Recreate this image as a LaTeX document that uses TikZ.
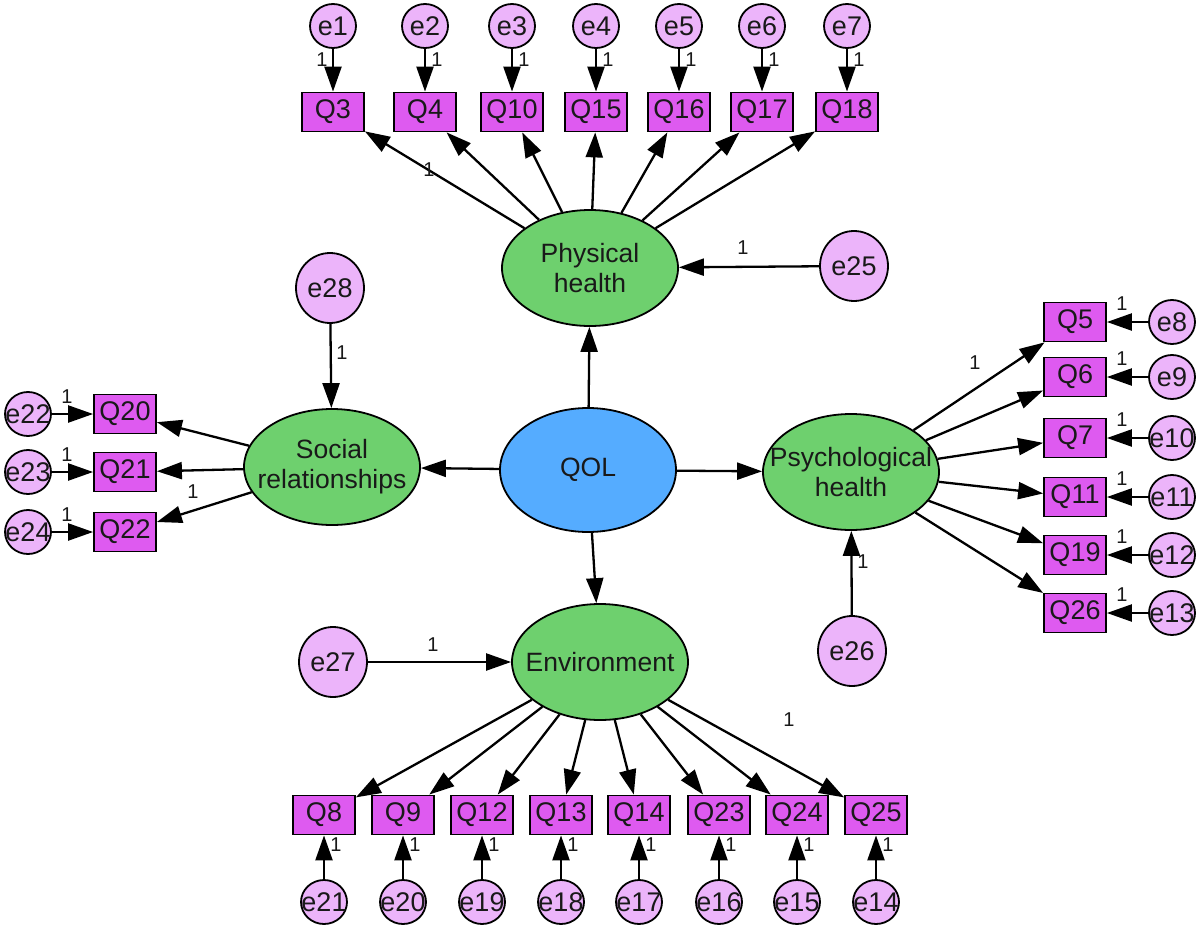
\documentclass[tikz,border=0pt]{standalone}
\usepackage{fontspec}
\setmainfont{Liberation Sans}
\usetikzlibrary{shapes.geometric,arrows.meta}
\definecolor{errc}{RGB}{236,180,250}
\definecolor{obsc}{RGB}{222,90,240}
\definecolor{latc}{RGB}{110,208,110}
\definecolor{qolc}{RGB}{85,172,255}
\definecolor{txt}{RGB}{25,25,25}
\newcommand{\zb}[1]{\makebox[0pt]{#1}}
\begin{document}
\begin{tikzpicture}[x=1pt,y=-1pt,
  err/.style={ellipse,draw,line width=1.8pt,fill=errc,inner sep=0pt,minimum width=46pt,minimum height=44pt,text=txt,font=\fontsize{27}{28}\selectfont},
  errbig/.style={err,minimum width=68pt,minimum height=70pt},
  obs/.style={rectangle,draw,line width=1.8pt,fill=obsc,inner sep=0pt,minimum width=62pt,minimum height=39pt,text=txt,font=\fontsize{27}{28}\selectfont},
  lat/.style={ellipse,draw,line width=1.8pt,fill=latc,inner sep=0pt,minimum width=176pt,minimum height=116pt,align=center,text=txt,font=\fontsize{26.5}{30}\selectfont},
  arr/.style={line width=2.3pt,-{Triangle[length=25pt,width=17pt]}},
  one/.style={font=\fontsize{20}{20}\selectfont,inner sep=0pt,text=txt}
]
\path[use as bounding box,fill=white] (0,0) rectangle (1200,929);

% latent variables
\node[lat] (PH) at (590,268) {\zb{Physical}\\\zb{health}};
\node[lat] (SR) at (332,467) {\zb{Social}\\\zb{relationships}};
\node[lat,fill=qolc,minimum height=124pt] (QOL) at (588,470) {\zb{QOL}};
\node[lat] (PS) at (851,472) {\zb{Psychological}\\\zb{health}};
\node[lat] (EN) at (600,662) {\zb{Environment}};

% disturbances
\node[errbig] (e25) at (854,266) {\zb{e25}};
\node[errbig] (e28) at (330,288) {\zb{e28}};
\node[errbig] (e27) at (333,662) {\zb{e27}};
\node[errbig] (e26) at (852,651) {\zb{e26}};

% structural paths
\draw[arr] (QOL) -- (PH);
\draw[arr] (QOL) -- (SR);
\draw[arr] (QOL) -- (PS);
\draw[arr] (QOL) -- (EN);
\draw[arr] (e25) -- (PH);
\draw[arr] (e28) -- (SR);
\draw[arr] (e27) -- (EN);
\draw[arr] (e26) -- (PS);
\node[one] (l25) at (743,248) {1};
\node[one] (l28) at (342,353) {1};
\node[one] (l27) at (433,645) {1};
\node[one] (l26) at (863,562) {1};

% top: physical health
\foreach \i/\q/\x in {1/3/333,2/4/425,3/10/512,4/15/596,5/16/679,6/17/762,7/18/847}{
  \node[err] (e\i) at (\x,26) {\zb{e\i}};
  \node[obs] (Q\q) at (\x,112) {Q\q};
  \draw[arr] (e\i) -- (Q\q);
  \draw[arr] (PH) -- (Q\q);
}
\node[one] (t1) at (322,60) {1};
\foreach \i/\x in {2/425,3/512,4/596,5/679,6/762,7/847}{
  \node[one] (t\i) at ({\x+12},60) {1};
}
\node[one] (lPH) at (429,170) {1};

% left: social relationships
\foreach \i/\q/\y in {22/20/414,23/21/472,24/22/532}{
  \node[err] (e\i) at (28,\y) {\zb{e\i}};
  \node[obs] (Q\q) at (125,\y) {Q\q};
  \draw[arr] (e\i) -- (Q\q);
  \draw[arr] (SR) -- (Q\q);
  \node[one] (t\i) at (67,{\y-17}) {1};
}
\node[one] (lSR) at (193,492) {1};

% right: psychological health
\foreach \i/\q/\y in {8/5/322,9/6/377,10/7/438,11/11/497,12/19/555,13/26/613}{
  \node[err] (e\i) at (1172,\y) {\zb{e\i}};
  \node[obs] (Q\q) at (1075,\y) {Q\q};
  \draw[arr] (e\i) -- (Q\q);
  \draw[arr] (PS) -- (Q\q);
  \node[one] (t\i) at (1122,{\y-18}) {1};
}
\node[one] (lPS) at (975,363) {1};

% bottom: environment
\foreach \i/\q/\x in {21/8/324,20/9/403,19/12/482,18/13/561,17/14/639,16/23/719,15/24/797,14/25/876}{
  \node[obs] (Q\q) at (\x,815) {Q\q};
  \node[err] (e\i) at (\x,902) {\zb{e\i}};
  \draw[arr] (e\i) -- (Q\q);
  \draw[arr] (EN) -- (Q\q);
  \node[one] (t\i) at ({\x+12},845) {1};
}
\node[one] (lEN) at (789,720) {1};
\end{tikzpicture}
\end{document}
